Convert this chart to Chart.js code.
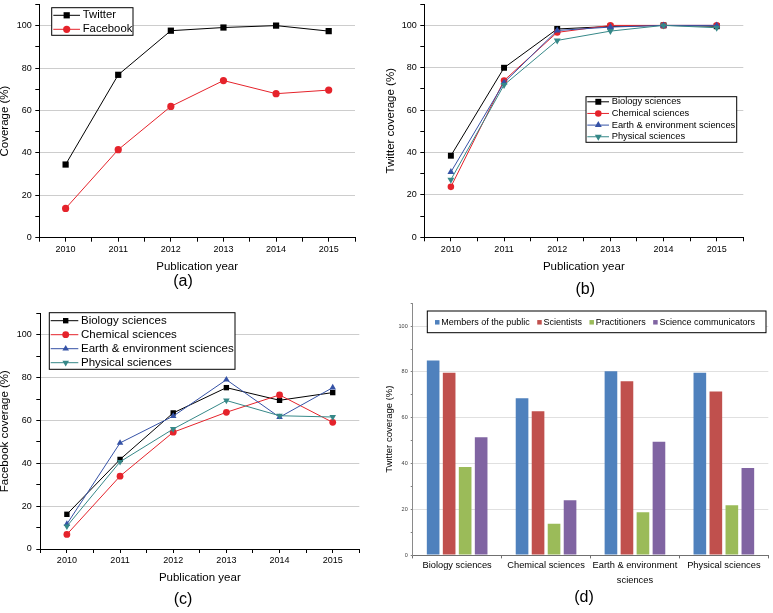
<!DOCTYPE html>
<html><head><meta charset="utf-8">
<script src="https://cdn.jsdelivr.net/npm/chart.js@4.4.1/dist/chart.umd.min.js"></script>
<style>
html,body{margin:0;padding:0;background:#fff;}
body{width:773px;height:613px;position:relative;overflow:hidden;}
canvas{position:absolute;}
</style></head><body>
<canvas id="ca" width="386" height="300" style="left:0;top:0"></canvas>
<canvas id="cb" width="387" height="300" style="left:386px;top:0"></canvas>
<canvas id="cc" width="386" height="313" style="left:0;top:300px"></canvas>
<canvas id="cd" width="387" height="313" style="left:386px;top:300px"></canvas>
<script>
// ---------- data ----------
const years = [2010, 2011, 2012, 2013, 2014, 2015];
const twitterAll  = [34.5, 76.8, 97.6, 99.1, 100, 97.4];
const facebookAll = [13.8, 41.5, 61.9, 74.1, 67.9, 69.6];
const fields = ['Biology sciences', 'Chemical sciences', 'Earth & environment sciences', 'Physical sciences'];
const twitterBio   = [38.5, 80.0, 98.3, 99.5, 100, 99.6];
const twitterChem  = [23.8, 74.0, 96.7, 100, 100, 100];
const twitterEarth = [30.8, 73.0, 97.6, 99.2, 100, 100];
const twitterPhys  = [27.2, 71.9, 92.9, 97.3, 100, 98.9];
const facebookBio   = [16.2, 41.8, 63.5, 75.3, 69.4, 73.0];
const facebookChem  = [6.8, 34.0, 54.5, 63.8, 71.9, 59.1];
const facebookEarth = [11.6, 49.5, 62.0, 79.0, 61.5, 75.3];
const facebookPhys  = [10.6, 40.7, 56.0, 69.3, 62.2, 61.6];
const audiences = ['Members of the public', 'Scientists', 'Practitioners', 'Science communicators'];
const barCategories = ['Biology sciences', 'Chemical sciences', ['Earth & environment', 'sciences'], 'Physical sciences'];
const publicCov        = [85.0, 68.5, 80.3, 79.7];
const scientistsCov    = [79.6, 62.8, 75.9, 71.4];
const practitionersCov = [38.5, 13.7, 18.7, 21.7];
const communicatorsCov = [51.5, 23.9, 49.5, 38.0];
const yTickValues = [0, 10, 20, 30, 40, 50, 60, 70, 80, 90, 100, 110];
const yLabeled = [0, 20, 40, 60, 80, 100];
const yGridded = [20, 40, 60, 80, 100];

// ---------- styling ----------
const FONT = "'Liberation Sans', Arial, Helvetica, sans-serif";
Chart.defaults.font.family = FONT;
const C_BLACK = '#000000', C_RED = '#E5232B', C_BLUE = '#3552A6', C_TEAL = '#368888';
const xTickValues = [];
years.forEach(y => { xTickValues.push(y - 0.5, y); });
xTickValues.push(years[years.length - 1] + 0.5);

function drawMarker(ctx, style, rot, r, x, y) {
  if (Chart.helpers && Chart.helpers.drawPoint) {
    Chart.helpers.drawPoint(ctx, {pointStyle: style, rotation: rot || 0, radius: r, borderWidth: 0}, x, y);
    return;
  }
  ctx.beginPath();
  if (style === 'circle') ctx.arc(x, y, r, 0, Math.PI * 2);
  else if (style === 'rect') { const s = r * Math.SQRT1_2; ctx.rect(x - s, y - s, 2 * s, 2 * s); }
  else {
    let a = (rot || 0) * Math.PI / 180;
    ctx.moveTo(x + Math.sin(a) * r, y - Math.cos(a) * r);
    for (let k = 0; k < 2; k++) { a += 2 * Math.PI / 3; ctx.lineTo(x + Math.sin(a) * r, y - Math.cos(a) * r); }
    ctx.closePath();
  }
  ctx.fill();
}

const boxLegend = {
  id: 'boxLegend',
  afterDraw(chart, args, o) {
    if (!o || !o.mode) return;
    const ctx = chart.ctx;
    ctx.save();
    ctx.fillStyle = '#fff';
    ctx.fillRect(o.bx0, o.by0, o.bx1 - o.bx0, o.by1 - o.by0);
    ctx.strokeStyle = '#000';
    ctx.lineWidth = 1;
    ctx.strokeRect(o.bx0, o.by0, o.bx1 - o.bx0, o.by1 - o.by0);
    ctx.font = o.size + 'px ' + FONT;
    ctx.textBaseline = 'middle';
    ctx.textAlign = 'left';
    const ds = chart.data.datasets;
    if (o.mode === 'line') {
      ds.forEach((d, i) => {
        const y = o.y0 + i * o.dy;
        ctx.strokeStyle = d.borderColor;
        ctx.lineWidth = 1;
        ctx.beginPath(); ctx.moveTo(o.lx0, y); ctx.lineTo(o.lx1, y); ctx.stroke();
        ctx.fillStyle = d.pointBackgroundColor;
        drawMarker(ctx, d.pointStyle, d.pointRotation, d.pointRadius, o.mx, y);
        ctx.fillStyle = '#000';
        ctx.fillText(d.label, o.tx, y);
      });
    } else {
      let x = o.x0;
      ds.forEach((d) => {
        ctx.fillStyle = d.backgroundColor;
        ctx.fillRect(x, o.y0 - o.sq / 2, o.sq, o.sq);
        x += o.sq + o.gapIn;
        ctx.fillStyle = '#000';
        ctx.fillText(d.label, x, o.y0);
        x += ctx.measureText(d.label).width + o.gapOut;
      });
    }
    ctx.restore();
  }
};
const panelLabel = {
  id: 'panelLabel',
  afterDraw(chart, args, o) {
    if (!o || !o.text) return;
    const ctx = chart.ctx;
    ctx.save();
    ctx.font = o.size + 'px ' + FONT;
    ctx.fillStyle = '#000';
    ctx.textAlign = 'center';
    ctx.textBaseline = 'middle';
    ctx.fillText(o.text, o.x, o.y);
    ctx.restore();
  }
};
Chart.register(boxLegend, panelLabel);

function yGridColor(c) {
  return (c.tick && yGridded.includes(c.tick.value)) ? '#cdcdcd' : 'rgba(0,0,0,0)';
}

function makeLine(id, cfg) {
  const n = cfg.series.length;
  return new Chart(document.getElementById(id), {
    type: 'line',
    data: {
      datasets: cfg.series.map((s, i) => ({
        label: s.label,
        data: years.map((y, j) => ({x: y, y: s.values[j]})),
        borderColor: s.color, backgroundColor: s.color,
        pointBackgroundColor: s.color, pointBorderColor: s.color,
        pointStyle: s.style, pointRotation: s.rot || 0, pointRadius: s.r, pointBorderWidth: 0,
        borderWidth: 1, tension: 0, fill: false, clip: false, order: n - i
      }))
    },
    options: {
      responsive: false, animation: false, devicePixelRatio: 1,
      events: [],
      layout: {padding: {top: cfg.padTop, right: cfg.padRight, left: 0, bottom: 0}},
      plugins: {
        legend: {display: false}, tooltip: {enabled: false},
        boxLegend: cfg.legend, panelLabel: cfg.panel
      },
      scales: {
        x: {
          type: 'linear', min: years[0] - 0.5, max: years[years.length - 1] + 0.5,
          afterBuildTicks: s => { s.ticks = xTickValues.map(v => ({value: v})); },
          afterFit: s => { s.height = cfg.xHeight; s.paddingLeft = 0; s.paddingRight = 0; },
          ticks: {autoSkip: false, maxRotation: 0, padding: 2.4, color: '#000', font: {size: 9},
                  callback: v => years.includes(v) ? String(v) : ''},
          grid: {drawOnChartArea: false, drawTicks: true, tickLength: 4, tickColor: '#000', tickWidth: 1},
          border: {display: true, color: '#000', width: 1},
          title: {display: true, text: 'Publication year', color: '#000',
                  font: {size: 11.5, lineHeight: 1}, padding: {top: 0, bottom: cfg.xTitlePad}}
        },
        y: {
          min: 0, max: 110,
          afterBuildTicks: s => { s.ticks = yTickValues.map(v => ({value: v})); },
          afterFit: s => { s.width = cfg.yWidth; s.paddingTop = 0; s.paddingBottom = 0; },
          ticks: {autoSkip: false, padding: cfg.yTickPad, color: '#000', font: {size: 9},
                  callback: v => yLabeled.includes(v) ? String(v) : ''},
          grid: {color: yGridColor, drawTicks: true, tickLength: 4, tickColor: '#000', tickWidth: 1, lineWidth: 1},
          border: {display: true, color: '#000', width: 1},
          title: {display: true, text: cfg.yTitle, color: '#000',
                  font: {size: 11.5, lineHeight: 1}, padding: {top: -0.75, bottom: 0}}
        }
      }
    }
  });
}

// (a)
makeLine('ca', {
  series: [
    {label: 'Twitter', values: twitterAll, color: C_BLACK, style: 'rect', r: 4.4},
    {label: 'Facebook', values: facebookAll, color: C_RED, style: 'circle', r: 3.6}
  ],
  padTop: 4, padRight: 31, xHeight: 62.3, yWidth: 39.3, xTitlePad: 26.95, yTickPad: 3.6,
  yTitle: 'Coverage (%)',
  legend: {mode: 'line', bx0: 51.7, by0: 7.7, bx1: 133, by1: 35.3, y0: 15.3, dy: 14,
           lx0: 53.3, lx1: 80, mx: 66.7, tx: 82.7, size: 11.3},
  panel: {text: '(a)', x: 183, y: 281.7, size: 16}
});

// (b)
makeLine('cb', {
  series: [
    {label: fields[0], values: twitterBio, color: C_BLACK, style: 'rect', r: 4.2},
    {label: fields[1], values: twitterChem, color: C_RED, style: 'circle', r: 3.3},
    {label: fields[2], values: twitterEarth, color: C_BLUE, style: 'triangle', r: 4},
    {label: fields[3], values: twitterPhys, color: C_TEAL, style: 'triangle', rot: 180, r: 4}
  ],
  padTop: 0.5, padRight: 29.7, xHeight: 62.7, yWidth: 38.3, xTitlePad: 27.55, yTickPad: 3.6,
  yTitle: 'Twitter coverage (%)',
  legend: {mode: 'line', bx0: 200, by0: 96.7, bx1: 350.7, by1: 142.3, y0: 101.8, dy: 11.65,
           lx0: 201.3, lx1: 223, mx: 212.3, tx: 225.7, size: 9.3},
  panel: {text: '(b)', x: 199.3, y: 289.3, size: 16}
});

// (c)
makeLine('cc', {
  series: [
    {label: fields[0], values: facebookBio, color: C_BLACK, style: 'rect', r: 3.8},
    {label: fields[1], values: facebookChem, color: C_RED, style: 'circle', r: 3.4},
    {label: fields[2], values: facebookEarth, color: C_BLUE, style: 'triangle', r: 3.8},
    {label: fields[3], values: facebookPhys, color: C_TEAL, style: 'triangle', rot: 180, r: 3.8}
  ],
  padTop: 13.3, padRight: 26.7, xHeight: 64, yWidth: 40.3, xTitlePad: 28.95, yTickPad: 4.6,
  yTitle: 'Facebook coverage (%)',
  legend: {mode: 'line', bx0: 49.3, by0: 12.7, bx1: 235, by1: 69.3, y0: 20.7, dy: 14,
           lx0: 50.7, lx1: 78.3, mx: 65.7, tx: 81, size: 11.5},
  panel: {text: '(c)', x: 183, y: 300, size: 16}
});

// (d)
const barColors = ['#4F81BD', '#C0504D', '#9BBB59', '#8064A2'];
const barValues = [publicCov, scientistsCov, practitionersCov, communicatorsCov];
new Chart(document.getElementById('cd'), {
  type: 'bar',
  data: {
    labels: barCategories,
    datasets: audiences.map((a, i) => ({
      label: a, data: barValues[i], backgroundColor: barColors[i], borderWidth: 0,
      categoryPercentage: 0.72, barPercentage: 0.79
    }))
  },
  options: {
    responsive: false, animation: false, devicePixelRatio: 1, events: [],
    layout: {padding: {top: 3.3, right: 4.7, left: 0, bottom: 0}},
    plugins: {
      legend: {display: false}, tooltip: {enabled: false},
      boxLegend: {mode: 'row', bx0: 41.3, by0: 11, bx1: 380, by1: 32.7, x0: 49, y0: 22.3,
                  sq: 4.5, gapIn: 1.8, gapOut: 7.4, size: 9},
      panelLabel: {text: '(d)', x: 198, y: 298, size: 16}
    },
    scales: {
      x: {
        type: 'category', offset: true,
        afterFit: s => { s.height = 58; s.paddingLeft = 0; s.paddingRight = 0; },
        ticks: {autoSkip: false, maxRotation: 0, padding: 0.2, color: '#000', font: {size: 9.3, lineHeight: 1.54}},
        grid: {offset: true, drawOnChartArea: false, drawTicks: true, tickLength: 3.4, tickColor: '#707070'},
        border: {display: true, color: '#707070', width: 1}
      },
      y: {
        min: 0, max: 110,
        afterBuildTicks: s => { s.ticks = yTickValues.map(v => ({value: v})); },
        afterFit: s => { s.width = 26.7; s.paddingTop = 0; s.paddingBottom = 0; },
        ticks: {autoSkip: false, padding: 3, color: '#404040', font: {size: 5.5},
                callback: v => yLabeled.includes(v) ? String(v) : ''},
        grid: {color: c => (c.tick && yGridded.includes(c.tick.value)) ? '#e0e0e0' : 'rgba(0,0,0,0)',
               drawTicks: true, tickLength: 2, tickColor: '#808080'},
        border: {display: true, color: '#8a8a8a', width: 1},
        title: {display: true, text: 'Twitter coverage (%)', color: '#000',
                font: {size: 9.5, lineHeight: 1}, padding: {top: -1.75, bottom: 0}}
      }
    }
  }
});
</script>
</body></html>
